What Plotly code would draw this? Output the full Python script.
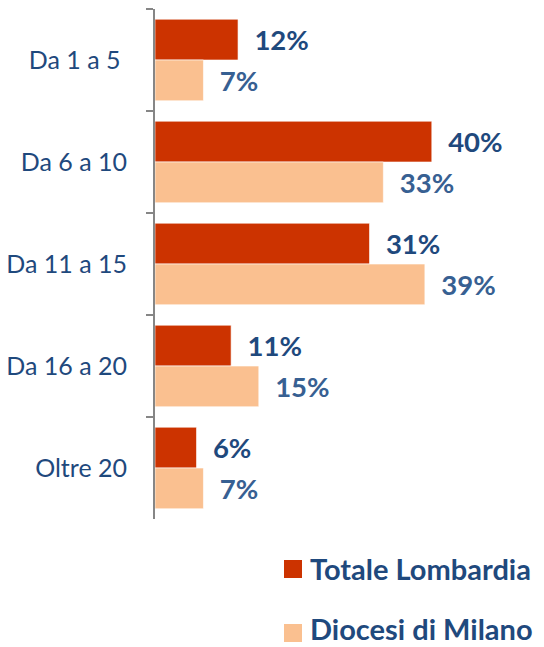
import plotly.graph_objects as go

categories = ["Da 1 a 5\u00a0", "Da 6 a 10", "Da 11 a 15", "Da 16 a 20", "Oltre 20"]
series_names = ["Totale Lombardia", "Diocesi di Milano"]
lombardia = [12, 40, 31, 11, 6]
milano = [7, 33, 39, 15, 7]

bar_colors = ["#CC3300", "#FAC090"]
label_colors = ["#1F497D", "#376092"]
FONT = "Lato"

W, H = 544, 647
ML, MR, MT, MB = 155, 43, 9, 128
PH = H - MT - MB
PW = W - ML - MR


def px_x(px):
    return (px - ML) / PW


def px_y(py):
    return (H - MB - py) / PH


fig = go.Figure()
for name, vals, col, lcol in zip(series_names, [lombardia, milano], bar_colors, label_colors):
    fig.add_trace(go.Bar(
        y=categories, x=vals, orientation="h", name=name,
        marker=dict(color=col, line=dict(color="rgba(255,255,255,0.6)", width=1)),
        text=[f"\u00a0\u00a0{v}%" for v in vals],
        textposition="outside", constraintext="none", cliponaxis=False,
        textfont=dict(family=FONT, size=27.5, color=lcol, weight="bold"),
        showlegend=False,
    ))

# manual legend (square centre, text centre in pixels)
legend_rows = [(569, 568), (633, 628)]
for name, col, (ys, yt) in zip(series_names, bar_colors, legend_rows):
    fig.add_shape(type="rect", xref="paper", yref="paper",
                  x0=px_x(284), x1=px_x(302), y0=px_y(ys - 9), y1=px_y(ys + 9),
                  fillcolor=col, line=dict(width=0))
    fig.add_annotation(xref="paper", yref="paper", x=px_x(309), y=px_y(yt),
                       xanchor="left", yanchor="middle", showarrow=False, text=name,
                       borderpad=0,
                       font=dict(family=FONT, size=29, color="#1F497D", weight="bold"))

fig.update_layout(
    width=W, height=H,
    margin=dict(l=ML, r=MR, t=MT, b=MB, autoexpand=False),
    barmode="group", bargap=0.2, bargroupgap=0,
    plot_bgcolor="white", paper_bgcolor="white",
    xaxis=dict(range=[0, 50], visible=False, showgrid=False, zeroline=False),
    yaxis=dict(autorange="reversed", showline=True, linecolor="#868686", linewidth=2,
               ticks="outside", tickson="boundaries", ticklen=7, tickwidth=2, tickcolor="#868686",
               ticklabelstandoff=21, showgrid=False, automargin=False,
               tickfont=dict(family=FONT, size=25, color="#1F497D")),
)

fig.write_html("out.html", config={"displayModeBar": False},
               post_script="document.body.style.margin='0';")
